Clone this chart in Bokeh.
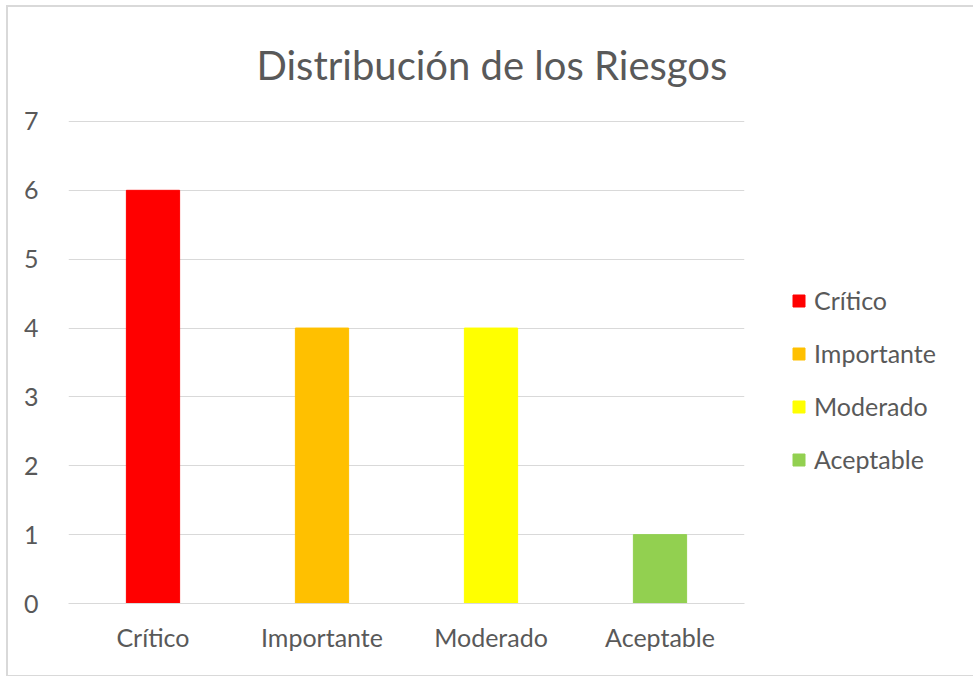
from bokeh.plotting import figure
from bokeh.models import ColumnDataSource, FactorRange, Legend, LegendItem, SingleIntervalTicker
from bokeh.embed import file_html
from bokeh.resources import INLINE

categories = ["Crítico", "Importante", "Moderado", "Aceptable"]
values = [6, 4, 4, 1]
colors = ["#FF0000", "#FFC000", "#FFFF00", "#92D050"]

FONT = "Lato"
TXT = "#595959"

src = ColumnDataSource(dict(cat=categories, val=values, color=colors))

p = figure(frame_width=676, frame_height=483, x_range=FactorRange(*categories, range_padding=0),
           y_range=(0, 7.014), output_backend="svg", toolbar_location=None,
           min_border_left=60, min_border_right=222, min_border_top=112, min_border_bottom=72)
p.styles = {"border": "2px solid #d9d9d9", "margin-left": "6px", "margin-top": "5px"}
p.outline_line_color = None

r = p.vbar(x="cat", top="val", width=0.315, color="color", source=src)

p.title.text = "Distribución de los Riesgos"
p.title.text_font = FONT
p.title.text_font_size = "40px"
p.title.text_font_style = "normal"
p.title.text_color = TXT
p.title.align = "left"
p.title.offset = 188
p.title.standoff = 63

p.yaxis.ticker = SingleIntervalTicker(interval=1)
p.yaxis.axis_line_color = None
p.yaxis.major_tick_line_color = None
p.yaxis.minor_tick_line_color = None
p.yaxis.major_label_standoff = 24
p.yaxis.major_label_text_font = FONT
p.yaxis.major_label_text_font_size = "25px"
p.yaxis.major_label_text_color = TXT

p.xaxis.axis_line_color = "#d9d9d9"
p.xaxis.major_tick_line_color = None
p.xaxis.minor_tick_line_color = None
p.xaxis.major_label_standoff = 12
p.xaxis.major_label_text_font = FONT
p.xaxis.major_label_text_font_size = "25px"
p.xaxis.major_label_text_color = TXT

p.xgrid.grid_line_color = None
p.ygrid.grid_line_color = "#d9d9d9"
p.ygrid.grid_line_width = 1

items = [LegendItem(label=c, renderers=[r], index=i) for i, c in enumerate(categories)]
legend = Legend(items=items, location=(47, 129), orientation="vertical",
                border_line_color=None, background_fill_alpha=0,
                glyph_width=15, glyph_height=15, label_text_font=FONT,
                label_text_font_size="25px", label_text_color=TXT,
                label_height=26, spacing=23, label_standoff=8, padding=0, margin=0)
p.add_layout(legend, "right")

open("out.html", "w").write(file_html(p, INLINE))
